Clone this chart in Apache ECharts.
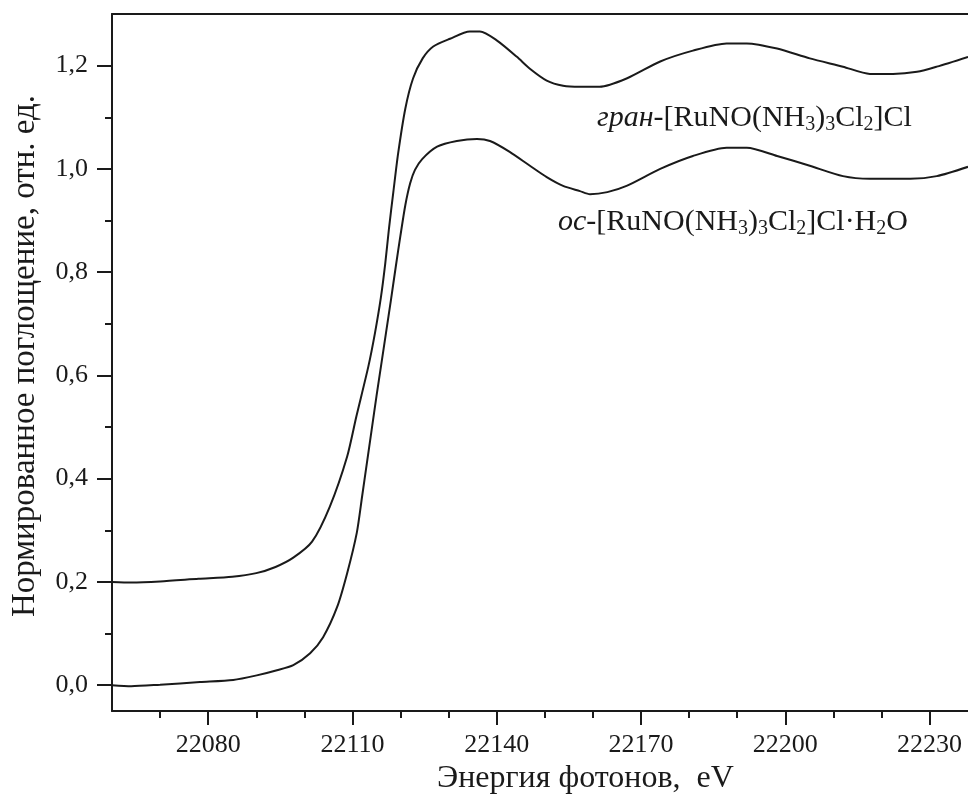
<!DOCTYPE html>
<html>
<head>
<meta charset="utf-8">
<script src="https://cdn.jsdelivr.net/npm/echarts@6/dist/echarts.min.js"></script>
<style>
html,body{margin:0;padding:0;background:#fff;}
#chart{width:968px;height:805px;}
</style>
</head>
<body>
<div id="chart"></div>
<script>
// ---- data ----
var granE = [22060, 22064, 22070, 22078, 22085, 22090, 22094, 22097.7, 22101.6, 22105.3, 22108.9, 22110.8, 22113.3, 22114.7, 22115.9, 22116.8, 22117.6, 22118.5, 22119.5, 22121, 22122.6, 22124.6, 22126.8, 22130.3, 22134.4, 22136.5, 22140, 22144.2, 22146.9, 22150.4, 22153.8, 22157.3, 22161.4, 22167, 22174, 22180.8, 22187.8, 22192, 22198.3, 22205.1, 22212, 22217.6, 22222.4, 22227.4, 22231.5, 22238];
var granV = [0.200, 0.199, 0.201, 0.206, 0.210, 0.217, 0.229, 0.247, 0.278, 0.346, 0.443, 0.520, 0.617, 0.683, 0.750, 0.815, 0.885, 0.955, 1.030, 1.117, 1.175, 1.214, 1.237, 1.252, 1.266, 1.266, 1.249, 1.217, 1.194, 1.171, 1.161, 1.159, 1.159, 1.175, 1.208, 1.229, 1.243, 1.243, 1.233, 1.214, 1.198, 1.184, 1.184, 1.188, 1.198, 1.217];

var osE = [22060, 22064, 22070, 22078.3, 22085.2, 22090.1, 22094.3, 22097.7, 22101.2, 22103.9, 22106.8, 22108.9, 22110.9, 22112, 22113, 22114, 22115, 22116, 22117, 22118, 22119, 22120, 22121, 22122, 22123, 22124.5, 22127.6, 22131.7, 22135.9, 22138.6, 22142.7, 22146.9, 22150.4, 22153.8, 22157.3, 22159.4, 22163, 22167, 22174, 22180.8, 22187.8, 22192, 22198.3, 22205.1, 22212, 22217.6, 22226, 22231.5, 22238];
var osV = [0.000, -0.002, 0.001, 0.006, 0.010, 0.019, 0.029, 0.039, 0.062, 0.093, 0.151, 0.217, 0.295, 0.365, 0.430, 0.495, 0.560, 0.622, 0.684, 0.746, 0.810, 0.872, 0.930, 0.972, 0.998, 1.019, 1.043, 1.054, 1.058, 1.054, 1.033, 1.006, 0.984, 0.967, 0.957, 0.951, 0.955, 0.967, 1.000, 1.025, 1.041, 1.041, 1.025, 1.006, 0.986, 0.981, 0.981, 0.986, 1.004];

var xMajorTicks = [22080, 22110, 22140, 22170, 22200, 22230];
var xMinorTicks = [22070, 22090, 22100, 22120, 22130, 22150, 22160, 22180, 22190, 22210, 22220];
var yMajorTicks = [0.0, 0.2, 0.4, 0.6, 0.8, 1.0, 1.2];
var yMinorTicks = [0.1, 0.3, 0.5, 0.7, 0.9, 1.1];

var xTitle = 'Энергия фотонов,  eV';
var yTitle = 'Нормированное поглощение, отн. ед.';
var granLabel = '{it|гран}{n|-[RuNO(NH}{sub|3}{n|)}{sub|3}{n|Cl}{sub|2}{n|]Cl}';
var osLabel = '{it|ос}{n|-[RuNO(NH}{sub|3}{n|)}{sub|3}{n|Cl}{sub|2}{n|]Cl·H}{sub|2}{n|O}';

// ---- chart ----
var FONT = '"Liberation Serif", "Times New Roman", serif';
var INK = '#1a1a1a';
function pairs(xs, ys) { return xs.map(function (x, i) { return [x, ys[i]]; }); }

var chart = echarts.init(document.getElementById('chart'), null, { renderer: 'canvas' });
var richStyles = {
  n: { fontFamily: FONT, fontSize: 30, lineHeight: 34, color: INK },
  it: { fontFamily: FONT, fontSize: 30, lineHeight: 34, fontStyle: 'italic', color: INK },
  sub: { fontFamily: FONT, fontSize: 20, lineHeight: 21, verticalAlign: 'bottom', color: INK }
};

chart.setOption({
  animation: false,
  backgroundColor: '#fff',
  grid: { left: 112, right: 0, top: 14, bottom: 94, containLabel: false },
  xAxis: [
    {
      type: 'value', min: 22060, max: 22238, position: 'bottom',
      axisLine: { show: true, onZero: false, lineStyle: { color: INK, width: 2 } },
      axisTick: { show: true, customValues: xMajorTicks, length: 14, inside: false, lineStyle: { color: INK, width: 2 } },
      axisLabel: { show: true, customValues: xMajorTicks, margin: 21, fontFamily: FONT, fontSize: 26, color: INK,
        formatter: function (v) { return String(v); } },
      splitLine: { show: false }
    },
    {
      type: 'value', min: 22060, max: 22238, position: 'bottom',
      axisLine: { show: false, onZero: false },
      axisTick: { show: true, customValues: xMinorTicks, length: 7, inside: false, lineStyle: { color: INK, width: 2 } },
      axisLabel: { show: false },
      splitLine: { show: false }
    },
    {
      type: 'value', min: 22060, max: 22238, position: 'top',
      axisLine: { show: true, onZero: false, lineStyle: { color: INK, width: 2 } },
      axisTick: { show: false }, axisLabel: { show: false }, splitLine: { show: false }
    }
  ],
  yAxis: [
    {
      type: 'value', min: -0.05, max: 1.3, position: 'left',
      axisLine: { show: true, onZero: false, lineStyle: { color: INK, width: 2 } },
      axisTick: { show: true, customValues: yMajorTicks, length: 15, inside: false, lineStyle: { color: INK, width: 2 } },
      axisLabel: {
        show: true, customValues: yMajorTicks, margin: 24, fontFamily: FONT, fontSize: 26, color: INK,
        formatter: function (v) { return v.toFixed(1).replace('.', ','); }
      },
      splitLine: { show: false }
    },
    {
      type: 'value', min: -0.05, max: 1.3, position: 'left',
      axisLine: { show: false, onZero: false },
      axisTick: { show: true, customValues: yMinorTicks, length: 7, inside: false, lineStyle: { color: INK, width: 2 } },
      axisLabel: { show: false },
      splitLine: { show: false }
    }
  ],
  series: [
    {
      name: 'gran', type: 'line', xAxisIndex: 0, yAxisIndex: 0,
      data: pairs(granE, granV), showSymbol: false, smooth: 0.25,
      lineStyle: { color: INK, width: 2 }
    },
    {
      name: 'os', type: 'line', xAxisIndex: 0, yAxisIndex: 0,
      data: pairs(osE, osV), showSymbol: false, smooth: 0.25,
      lineStyle: { color: INK, width: 2 }
    }
  ],
  graphic: [
    {
      type: 'text', z: 10, x: 437, y: 779,
      style: { text: xTitle, font: '32px ' + FONT, fill: INK, align: 'left', verticalAlign: 'middle' }
    },
    {
      type: 'text', z: 10, x: 25, y: 356, rotation: Math.PI / 2,
      style: { text: yTitle, font: '33px ' + FONT, fill: INK, align: 'center', verticalAlign: 'middle' }
    },
    {
      type: 'text', z: 10, x: 597, y: 118,
      style: { text: granLabel, rich: richStyles, font: '30px ' + FONT, fill: INK, align: 'left', verticalAlign: 'middle' }
    },
    {
      type: 'text', z: 10, x: 558, y: 222,
      style: { text: osLabel, rich: richStyles, font: '30px ' + FONT, fill: INK, align: 'left', verticalAlign: 'middle' }
    }
  ]
});
</script>
</body>
</html>
